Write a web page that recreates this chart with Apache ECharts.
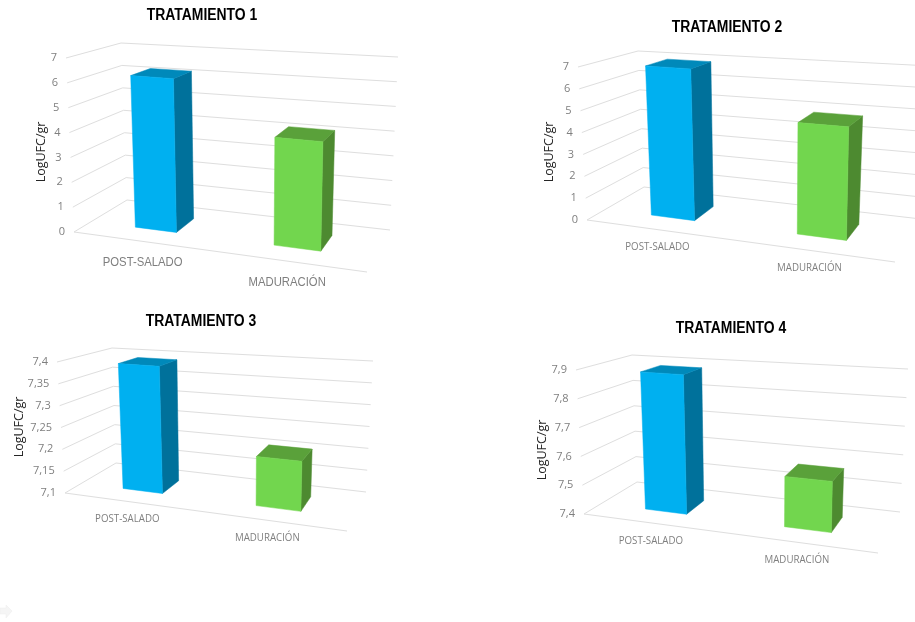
<!DOCTYPE html>
<html>
<head>
<meta charset="utf-8">
<style>html,body{margin:0;padding:0;background:#fff}#c{width:915px;height:622px}</style>
<script src="https://cdn.jsdelivr.net/npm/echarts@6/dist/echarts.min.js"></script>
</head>
<body>
<div id="c"></div>
<script>
const categories = ['POST-SALADO', 'MADURACIÓN'];
const titles = ['TRATAMIENTO 1', 'TRATAMIENTO 2', 'TRATAMIENTO 3', 'TRATAMIENTO 4'];
const yName = 'LogUFC/gr';

const values1 = [6.2, 4.2];
const values2 = [6.95, 4.9];
const values3 = [7.392, 7.208];
const values4 = [7.886, 7.568];

const ticks1 = [0, 1, 2, 3, 4, 5, 6, 7];
const ticks2 = [0, 1, 2, 3, 4, 5, 6, 7];
const ticks3 = [7.1, 7.15, 7.2, 7.25, 7.3, 7.35, 7.4];
const ticks4 = [7.4, 7.5, 7.6, 7.7, 7.8, 7.9];

const tickLabels1 = ['0', '1', '2', '3', '4', '5', '6', '7'];
const tickLabels2 = ['0', '1', '2', '3', '4', '5', '6', '7'];
const tickLabels3 = ['7,1', '7,15', '7,2', '7,25', '7,3', '7,35', '7,4'];
const tickLabels4 = ['7,4', '7,5', '7,6', '7,7', '7,8', '7,9'];

const allValues = [values1, values2, values3, values4];
const allTicks = [ticks1, ticks2, ticks3, ticks4];
const allTickLabels = [tickLabels1, tickLabels2, tickLabels3, tickLabels4];

// Perspective box of every panel (layout only)
const panels = [
  { flb:[74,232], frb:[367,272], blb:[127,200], brb:[390,230], flt:[66,58],  frt:[372,80],  blt:[121,43],  brt:[398,57], uAdj:0,
    title:[202,16], name:[41,152], catDy:21, catDx:[2,0], catFont:'13px "Liberation Sans"', catScale:0.87, tickFont:'11px "Open Sans"' },
  { flb:[587,220], frb:[895,262], blb:[644,187], brb:[921,219], flt:[578,67], frt:[899,90], blt:[638,51], brt:[931,66], uAdj:-0.002,
    title:[727,28], name:[549,152], catDy:18, catDx:[1,-1], catFont:'10px "Open Sans"', catScale:0.97, tickFont:'11px "Open Sans"' },
  { flb:[65,493], frb:[347,531], blb:[116,463], brb:[366,492], flt:[57,362], frt:[351,383], blt:[112,348], brt:[373,361], uAdj:-0.003,
    title:[201,322], name:[19,427], catDy:18, catDx:[-1,-2], catFont:'10px "Open Sans"', catScale:0.97, tickFont:'11px "Open Sans"' },
  { flb:[584,514], frb:[878,553], blb:[637,482], brb:[900,512], flt:[576,370], frt:[882,391], blt:[632,355], brt:[908,369], uAdj:0,
    title:[731,329], name:[542,450], catDy:18, catDx:[0,-1], catFont:'10px "Open Sans"', catScale:0.97, tickFont:'11px "Open Sans"' }
];

const GRID_W = 200, GRID_H = 160;
const U_SHIFT = -0.0225, BAR_RATIOS = [0.29, 0.33], W_FRONT = 0.33, W_BACK = 0.72;
const barFaces = [
  { front:'#00B0F0', side:'#00719B', top:'#0089BA' },
  { front:'#72D64E', side:'#4D8A30', top:'#5AA13A' }
];

function lerp(a, b, t) { return [a[0] + (b[0] - a[0]) * t, a[1] + (b[1] - a[1]) * t]; }
function project(p, u, v, w) {
  const bottom = lerp(lerp(p.flb, p.frb, u), lerp(p.blb, p.brb, u), w);
  const top = lerp(lerp(p.flt, p.frt, u), lerp(p.blt, p.brt, u), w);
  return lerp(bottom, top, v);
}
function gridRect(p) { return { left: p.name[0] + 19, top: p.name[1] - GRID_H / 2, width: GRID_W, height: GRID_H }; }
function toUnit(r, pt) { return [(pt[0] - r.left) / r.width, (r.top + r.height - pt[1]) / r.height]; }

const series = [], grids = [], xAxes = [], yAxes = [];
panels.forEach(function (p, i) {
  const r = gridRect(p);
  const tk = allTicks[i], labels = allTickLabels[i];
  grids.push(r);
  xAxes.push({ gridIndex: i, type: 'category', data: categories, show: false });
  yAxes.push({
    gridIndex: i, type: 'value', min: tk[0], max: tk[tk.length - 1],
    name: yName, nameLocation: 'middle', nameGap: 12, nameRotate: 90,
    nameTextStyle: { fontFamily: 'Open Sans', fontSize: 12.5, color: '#262626' },
    axisLine: { show: false }, axisTick: { show: false }, axisLabel: { show: false }, splitLine: { show: false }
  });
  // Gridlines and tick labels
  series.push({
    type: 'custom', xAxisIndex: i, yAxisIndex: i, z: 1, silent: true,
    data: tk.map(function (t) { return [0, t]; }),
    encode: { x: 0, y: 1 },
    renderItem: function (params, api) {
      const idx = params.dataIndex;
      const v = toUnit(r, api.coord([0, api.value(1)]))[1];
      const a = project(p, 0, v, 0), b = project(p, 0, v, 1), c = project(p, 1, v, 1);
      const children = [
        { type: 'polyline', shape: { points: [a, b, c] }, style: { stroke: '#DEDEDE', lineWidth: 1, fill: null } },
        { type: 'text', style: { x: a[0] - 9, y: a[1], text: labels[idx], font: p.tickFont, fill: '#7F7F7F', align: 'right', verticalAlign: 'middle' } }
      ];
      if (idx === 0) {
        children.push({ type: 'line', shape: { x1: a[0], y1: a[1], x2: p.frb[0], y2: p.frb[1] }, style: { stroke: '#DEDEDE', lineWidth: 1 } });
      }
      return { type: 'group', children: children };
    }
  });
  // Bars
  series.push({
    type: 'custom', xAxisIndex: i, yAxisIndex: i, z: 2, silent: true,
    data: allValues[i].map(function (val, c) { return [c, val]; }),
    encode: { x: 0, y: 1 },
    renderItem: function (params, api) {
      const c = api.value(0);
      const un = toUnit(r, api.coord([c, api.value(1)]));
      const uw = api.size([1, 0])[0] / r.width * BAR_RATIOS[c];
      const uc = un[0] + U_SHIFT + p.uAdj;
      const u0 = uc - uw / 2, u1 = u0 + uw, v = un[1];
      const faces = barFaces[c];
      function poly(pts, color) {
        return { type: 'polygon', shape: { points: pts }, style: { fill: color, stroke: color, lineWidth: 0.5 } };
      }
      const lab = project(p, uc, 0, 0);
      return {
        type: 'group',
        children: [
          poly([project(p, u1, 0, W_FRONT), project(p, u1, 0, W_BACK), project(p, u1, v, W_BACK), project(p, u1, v, W_FRONT)], faces.side),
          poly([project(p, u0, v, W_FRONT), project(p, u1, v, W_FRONT), project(p, u1, v, W_BACK), project(p, u0, v, W_BACK)], faces.top),
          poly([project(p, u0, 0, W_FRONT), project(p, u1, 0, W_FRONT), project(p, u1, v, W_FRONT), project(p, u0, v, W_FRONT)], faces.front),
          { type: 'text', x: lab[0] + p.catDx[c], y: lab[1] + p.catDy, scaleX: p.catScale,
            style: { x: 0, y: 0, text: categories[c], font: p.catFont, fill: '#7F7F7F', align: 'center', verticalAlign: 'middle' } }
        ]
      };
    }
  });
});

const titleGraphics = titles.map(function (t, i) {
  return {
    type: 'text', silent: true, x: panels[i].title[0], y: panels[i].title[1], scaleX: 0.87,
    style: { x: 0, y: 0, text: t, font: 'bold 16px "Liberation Sans"', fill: '#000', align: 'center', verticalAlign: 'middle' }
  };
});

const chart = echarts.init(document.getElementById('c'));
chart.setOption({
  animation: false,
  backgroundColor: '#fff',
  grid: grids,
  xAxis: xAxes,
  yAxis: yAxes,
  series: series,
  graphic: titleGraphics.concat([{
    type: 'polygon', silent: true,
    shape: { points: [[0, 608], [6, 608], [6, 605], [12, 611], [6, 618], [6, 614], [0, 614]] },
    style: { fill: '#F5F5F5', stroke: '#EDEDED', lineWidth: 0.5 }
  }])
});
</script>
</body>
</html>
